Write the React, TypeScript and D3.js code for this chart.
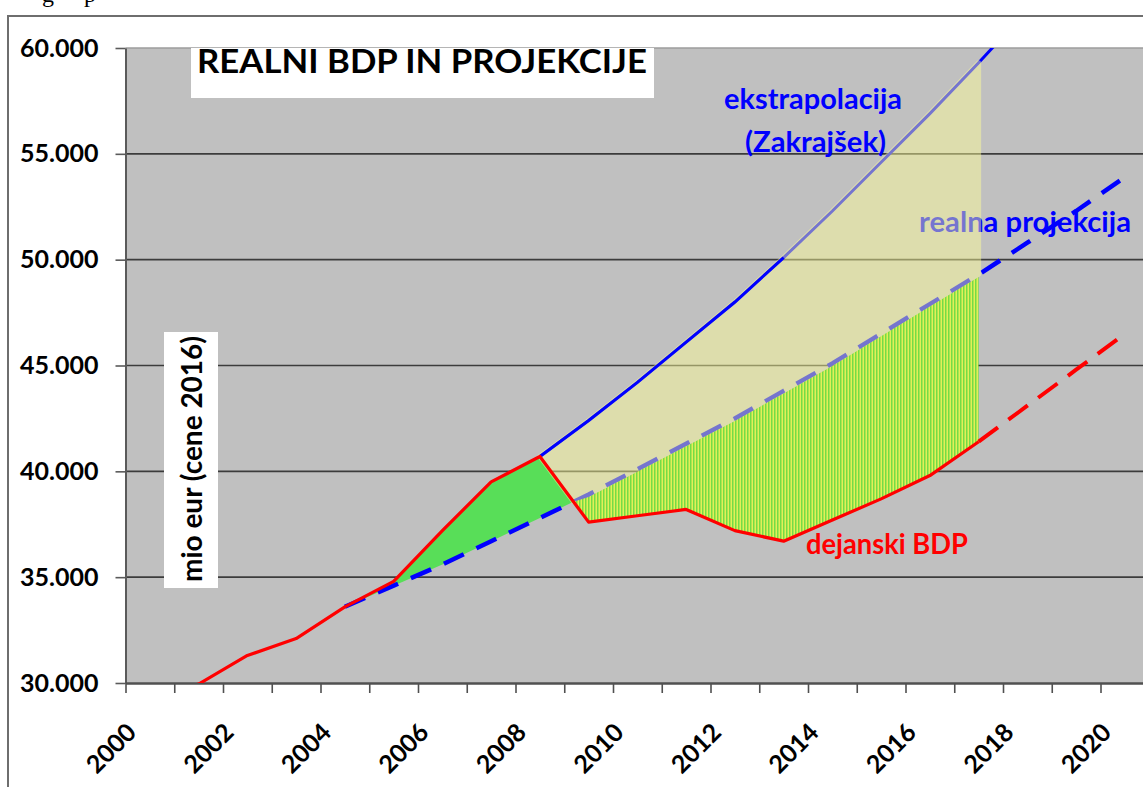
import React, { useRef, useEffect } from 'react';
import * as d3 from 'd3';

// categories (one per year)
const years = [
  '2000', '2001', '2002', '2003', '2004', '2005', '2006', '2007', '2008', '2009', '2010',
  '2011', '2012', '2013', '2014', '2015', '2016', '2017', '2018', '2019', '2020',
];

// dejanski BDP (actual), mio eur
const actualGdp: (number | null)[] = [
  29300, 29950, 31300, 32100, 33600, 34800, 37200, 39500, 40700, 37600, 37900,
  38200, 37200, 36700, 37700, 38700, 39800, 41400, null, null, null,
];
// dejanski BDP, dashed continuation
const actualForecast: (number | null)[] = [
  null, null, null, null, null, null, null, null, null, null, null,
  null, null, null, null, null, null, 41400, 43100, 44800, 46500,
];
// realna projekcija (dashed blue)
const realProjection: (number | null)[] = [
  null, null, null, null, 33600, 34600, 35600, 36700, 37800, 38900, 40100,
  41300, 42500, 43800, 45100, 46500, 47900, 49300, 50800, 52300, 53900,
];
// ekstrapolacija (Zakrajšek)
const extrapolation: (number | null)[] = [
  null, null, null, null, null, null, null, null, 40700, 42400, 44200,
  46100, 48000, 50100, 52300, 54600, 56900, 59300, 61800, null, null,
];

const yTicks = [30000, 35000, 40000, 45000, 50000, 55000, 60000];
const xLabels = ['2000', '2002', '2004', '2006', '2008', '2010', '2012', '2014', '2016', '2018', '2020'];

const W = 1143;
const H = 787;
const FONT = 'Lato, "Open Sans", sans-serif';

type Pt = { i: number; v: number };
type Band = { i: number; lo: number; hi: number };

const pts = (arr: (number | null)[]): Pt[] =>
  arr.map((v, i) => ({ i, v: v as number })).filter((d) => d.v != null);

const App: React.FC = () => {
  const svgRef = useRef<SVGSVGElement | null>(null);

  useEffect(() => {
    const svg = d3.select(svgRef.current!);
    svg.selectAll('*').remove();

    const left = 125.5;
    const top = 48;
    const bottom = 683;

    const x = d3.scaleBand().domain(years).range([left, left + 48.75 * years.length]).padding(0);
    const bw = x.bandwidth();
    // fractional category index -> pixel (category centres at integers)
    const t = d3.scaleLinear().domain([-0.5, years.length - 0.5]).range(x.range());
    const y = d3.scaleLinear().domain([30000, 60000]).range([bottom, top]);
    const right = x.range()[1];

    const defs = svg.append('defs');
    defs.append('clipPath').attr('id', 'plot')
      .append('rect')
      .attr('x', left).attr('y', top)
      .attr('width', right - left).attr('height', bottom - top);
    const pat = defs.append('pattern').attr('id', 'hatch')
      .attr('patternUnits', 'userSpaceOnUse')
      .attr('width', 3).attr('height', 10);
    pat.append('rect').attr('width', 3).attr('height', 10).attr('fill', '#e2ef58');
    pat.append('rect').attr('width', 1.5).attr('height', 10).attr('fill', '#74dc46');

    svg.append('rect').attr('width', W).attr('height', H).attr('fill', '#fff');

    // fragment of the document text above the chart
    svg.append('text').attr('x', 42).attr('y', 2).attr('font-family', '"Liberation Serif", serif')
      .attr('font-size', 24).text('g');
    svg.append('text').attr('x', 84).attr('y', 2).attr('font-family', '"Liberation Serif", serif')
      .attr('font-size', 24).text('p');

    // chart frame
    svg.append('rect')
      .attr('x', 8).attr('y', 16).attr('width', 1200).attr('height', 800)
      .attr('fill', 'none').attr('stroke', '#6e6e6e').attr('stroke-width', 2);

    // plot background
    svg.append('rect')
      .attr('x', left).attr('y', top)
      .attr('width', right - left).attr('height', bottom - top)
      .attr('fill', '#c0c0c0');

    // gridlines
    svg.append('g').selectAll('line')
      .data(yTicks.filter((v) => v > 30000))
      .enter().append('line')
      .attr('x1', left).attr('x2', right)
      .attr('y1', (d) => y(d)).attr('y2', (d) => y(d))
      .attr('stroke', (d) => (d === 60000 ? '#9c9c9c' : '#3c3c3c'))
      .attr('stroke-width', 1.6);

    // y axis
    const yAxis = svg.append('g')
      .attr('transform', `translate(${left},0)`)
      .call(d3.axisLeft(y).tickValues(yTicks).tickSize(10).tickSizeOuter(0).tickPadding(17)
        .tickFormat((d) => d3.format(',')(d as number).replace(',', '.')));
    yAxis.select('.domain').attr('stroke', '#5a5a5a').attr('stroke-width', 2);
    yAxis.selectAll('.tick line').attr('stroke', '#5a5a5a').attr('stroke-width', 1.6);
    yAxis.selectAll('.tick text')
      .attr('font-family', FONT).attr('font-weight', 'bold').attr('font-size', 25).attr('fill', '#000');

    // x axis (tick marks between categories)
    const xAxis = svg.append('g')
      .attr('transform', `translate(0,${bottom})`)
      .call(d3.axisBottom(t).tickValues(d3.range(-0.5, years.length, 1)).tickSize(10).tickSizeOuter(0)
        .tickFormat(() => ''));
    xAxis.select('.domain').attr('stroke', '#505050').attr('stroke-width', 2.5);
    xAxis.selectAll('.tick line').attr('stroke', '#505050').attr('stroke-width', 1.6);

    svg.append('g').selectAll('text')
      .data(xLabels)
      .enter().append('text')
      .attr('transform', (d) => `translate(${x(d)! + bw / 2 - 12},734) rotate(-45)`)
      .attr('text-anchor', 'end')
      .attr('font-family', FONT).attr('font-weight', 'bold').attr('font-size', 25)
      .text((d) => d);

    // where actual GDP drops below the realistic projection
    let k = 5;
    while (k < years.length - 1 && (actualGdp[k + 1] as number) >= (realProjection[k + 1] as number)) k++;
    const d0 = (actualGdp[k] as number) - (realProjection[k] as number);
    const d1 = (actualGdp[k + 1] as number) - (realProjection[k + 1] as number);
    const f = d0 / (d0 - d1);
    const ci = k + f;
    const cv = (actualGdp[k] as number) + f * ((actualGdp[k + 1] as number) - (actualGdp[k] as number));
    const extStart = extrapolation.findIndex((v) => v != null);
    const lastActual = actualGdp.length - 1 - [...actualGdp].reverse().findIndex((v) => v != null);
    const extAt = (i: number) => {
      const a = Math.floor(i);
      const b = a + 1;
      return (extrapolation[a] as number) + (i - a) * ((extrapolation[b] as number) - (extrapolation[a] as number));
    };

    const area = d3.area<Band>().x((d) => t(d.i)).y0((d) => y(d.lo)).y1((d) => y(d.hi));
    const line = d3.line<Pt>().x((d) => t(d.i)).y((d) => y(d.v));

    const plot = svg.append('g').attr('clip-path', 'url(#plot)');

    const label = (txt: string, xx: number, yy: number, len: number, color: string) =>
      plot.append('text')
        .attr('x', xx).attr('y', yy)
        .attr('font-family', FONT).attr('font-weight', 'bold').attr('font-size', 28)
        .attr('fill', color)
        .attr('textLength', len).attr('lengthAdjust', 'spacingAndGlyphs')
        .text(txt);

    // green gain area (actual above projection)
    const green: Band[] = [];
    for (let i = 4; i <= k; i++) green.push({ i, lo: realProjection[i] as number, hi: actualGdp[i] as number });
    green.push({ i: ci, lo: cv, hi: cv });
    plot.append('path').attr('d', area(green)!).attr('fill', '#58de58');

    // labels that sit under the overlay
    label('ekstrapolacija', 724, 109, 178, '#0000ff');
    label('(Zakrajšek)', 745, 152, 141, '#0000ff');
    label('realna projekcija', 919, 232, 212, '#0000ff');

    // lines under the overlay
    plot.append('path').attr('d', line(pts(realProjection))!)
      .attr('fill', 'none').attr('stroke', '#0000ff').attr('stroke-width', 4.5)
      .attr('stroke-dasharray', '22 14');
    plot.append('path').attr('d', line(pts(extrapolation))!)
      .attr('fill', 'none').attr('stroke', '#0000ff').attr('stroke-width', 3);

    // translucent yellow overlay between extrapolation and projection
    const over: Band[] = [
      { i: extStart, lo: actualGdp[extStart] as number, hi: extrapolation[extStart] as number },
      { i: ci, lo: cv, hi: extAt(ci) },
    ];
    for (let i = k + 1; i <= lastActual; i++) {
      over.push({ i, lo: realProjection[i] as number, hi: extrapolation[i] as number });
    }
    plot.append('g').attr('opacity', 0.46)
      .append('path').attr('d', area(over)!)
      .attr('fill', '#ffff96').attr('stroke', '#ffff96').attr('stroke-width', 5)
      .attr('stroke-linejoin', 'round');

    // hatched loss area (projection above actual)
    const hatch: Band[] = [{ i: ci, lo: cv, hi: cv }];
    for (let i = k + 1; i <= lastActual; i++) {
      hatch.push({ i, lo: actualGdp[i] as number, hi: realProjection[i] as number });
    }
    const hatchArea = d3.area<Band>()
      .x((d) => t(d.i))
      .y0((d) => y(d.lo))
      .y1((d) => Math.min(y(d.hi) + 2.5, y(d.lo)));
    plot.append('path').attr('d', hatchArea(hatch)!).attr('fill', 'url(#hatch)');

    // bright part of the extrapolation line
    plot.append('path')
      .attr('d', line(pts(extrapolation).filter((d) => d.i <= 13))!)
      .attr('fill', 'none').attr('stroke', '#0000ff').attr('stroke-width', 3);

    // actual GDP
    plot.append('path').attr('d', line(pts(actualGdp))!)
      .attr('fill', 'none').attr('stroke', '#ff0000').attr('stroke-width', 3.2)
      .attr('stroke-linejoin', 'round');
    plot.append('path').attr('d', line(pts(actualForecast))!)
      .attr('fill', 'none').attr('stroke', '#ff0000').attr('stroke-width', 4)
      .attr('stroke-dasharray', '24 13');

    label('dejanski BDP', 806, 554, 162, '#ff0000');

    // title box
    svg.append('rect').attr('x', 191).attr('y', top).attr('width', 463).attr('height', 50).attr('fill', '#fff');
    svg.append('text')
      .attr('x', 197).attr('y', 73)
      .attr('font-family', FONT).attr('font-weight', 'bold').attr('font-size', 32)
      .attr('textLength', 450).attr('lengthAdjust', 'spacingAndGlyphs')
      .text('REALNI BDP IN PROJEKCIJE');

    // y axis title box
    svg.append('rect').attr('x', 164).attr('y', 332).attr('width', 54).attr('height', 256).attr('fill', '#fff');
    svg.append('text')
      .attr('transform', 'translate(202,459) rotate(-90)')
      .attr('text-anchor', 'middle')
      .attr('font-family', FONT).attr('font-weight', 'bold').attr('font-size', 28)
      .attr('textLength', 246).attr('lengthAdjust', 'spacingAndGlyphs')
      .text('mio eur (cene 2016)');
  }, []);

  return (
    <svg
      ref={svgRef}
      width={W}
      height={H}
      style={{ position: 'absolute', left: 0, top: 0, display: 'block' }}
    />
  );
};

export default App;
